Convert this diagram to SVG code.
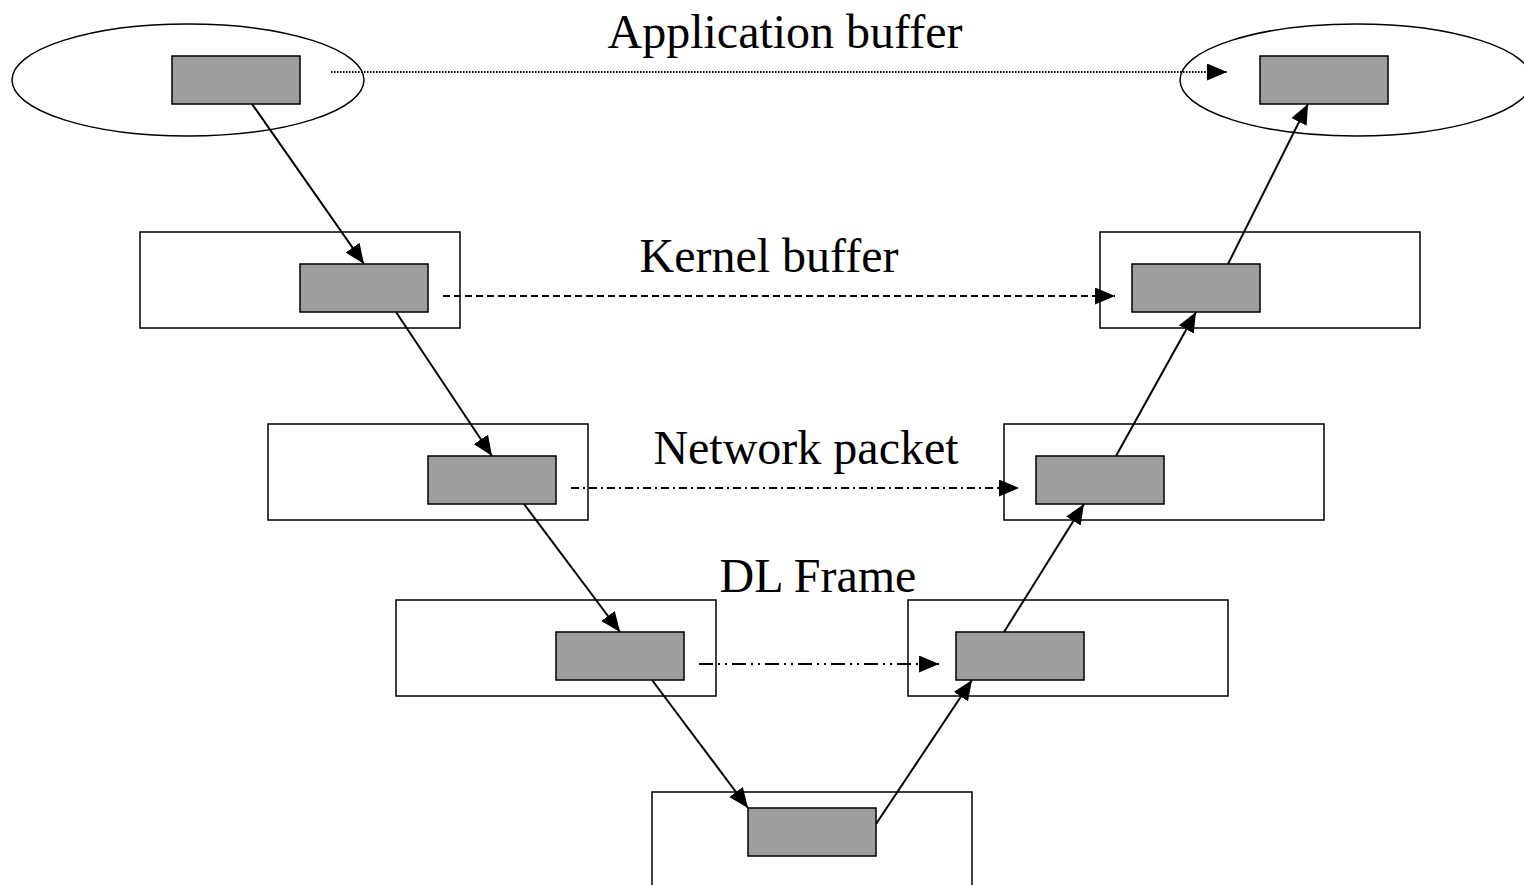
<svg xmlns="http://www.w3.org/2000/svg" width="1524" height="885" viewBox="0 0 1524 885">
<style>
.outer{fill:#fff;stroke:#000;stroke-width:1.5}
.inner{fill:#9e9e9e;stroke:#000;stroke-width:1.5}
.arr{stroke:#000;stroke-width:2;fill:none;marker-end:url(#ah)}
.lbl{font-family:"Liberation Serif","Times New Roman",serif;font-size:48px;fill:#000;text-anchor:middle}
</style>
<defs>
<marker id="ah" markerWidth="20" markerHeight="17" refX="20" refY="8.5" orient="auto" markerUnits="userSpaceOnUse">
<path d="M0,0 L20,8.5 L0,17 Z" fill="#000"/>
</marker>
</defs>
<rect width="1524" height="885" fill="#fff"/>
<g id="app-left"><ellipse cx="188" cy="80" rx="176" ry="56" class="outer"/><rect x="172" y="56" width="128" height="48" class="inner"/></g>
<g id="app-right"><ellipse cx="1356" cy="80" rx="176" ry="56" class="outer"/><rect x="1260" y="56" width="128" height="48" class="inner"/></g>
<g id="kernel-left"><rect x="140" y="232" width="320" height="96" class="outer"/><rect x="300" y="264" width="128" height="48" class="inner"/></g>
<g id="kernel-right"><rect x="1100" y="232" width="320" height="96" class="outer"/><rect x="1132" y="264" width="128" height="48" class="inner"/></g>
<g id="net-left"><rect x="268" y="424" width="320" height="96" class="outer"/><rect x="428" y="456" width="128" height="48" class="inner"/></g>
<g id="net-right"><rect x="1004" y="424" width="320" height="96" class="outer"/><rect x="1036" y="456" width="128" height="48" class="inner"/></g>
<g id="dl-left"><rect x="396" y="600" width="320" height="96" class="outer"/><rect x="556" y="632" width="128" height="48" class="inner"/></g>
<g id="dl-right"><rect x="908" y="600" width="320" height="96" class="outer"/><rect x="956" y="632" width="128" height="48" class="inner"/></g>
<g id="phys"><rect x="652" y="792" width="320" height="110" class="outer"/><rect x="748" y="808" width="128" height="48" class="inner"/></g>
<g id="labels">
<text x="785" y="48" class="lbl">Application buffer</text>
<text x="769" y="272" class="lbl">Kernel buffer</text>
<text x="806" y="464" class="lbl">Network packet</text>
<text x="818" y="592" class="lbl">DL Frame</text>
</g>
<g id="connectors">
<line x1="331" y1="72" x2="1227" y2="72" class="arr" stroke-width="1.2" stroke-dasharray="1.5 1.5"/>
<line x1="443" y1="296" x2="1115" y2="296" class="arr" stroke-width="1.5" stroke-dasharray="7 4"/>
<line x1="571" y1="488" x2="1019" y2="488" class="arr" stroke-width="1.5" stroke-dasharray="8 4 2 4"/>
<line x1="699" y1="664" x2="939" y2="664" class="arr" stroke-width="1.5" stroke-dasharray="14 5 2 5 2 5"/>
<line x1="252" y1="104" x2="364" y2="264" class="arr"/>
<line x1="396" y1="312" x2="492" y2="456" class="arr"/>
<line x1="524" y1="504" x2="620" y2="632" class="arr"/>
<line x1="652" y1="680" x2="748" y2="808" class="arr"/>
<line x1="876" y1="824" x2="972" y2="680" class="arr"/>
<line x1="1004" y1="632" x2="1084" y2="504" class="arr"/>
<line x1="1116" y1="456" x2="1196" y2="312" class="arr"/>
<line x1="1228" y1="264" x2="1308" y2="104" class="arr"/>
</g>
</svg>
